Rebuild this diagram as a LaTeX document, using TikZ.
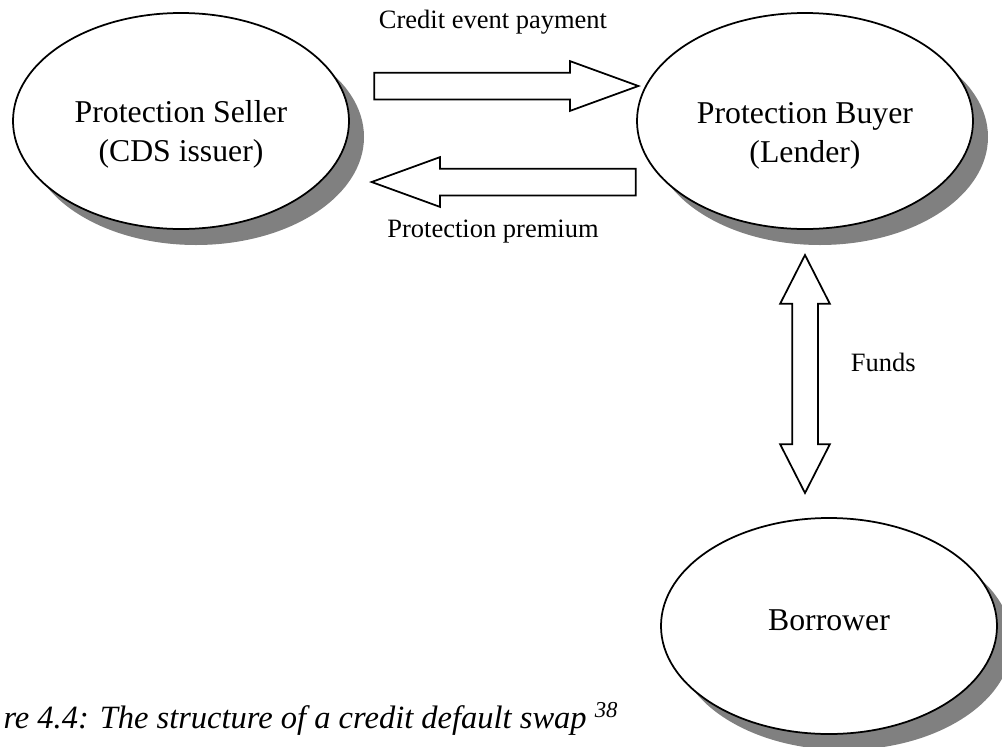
\documentclass[tikz,border=0pt]{standalone}
\usepackage{fontspec}
\setmainfont{Liberation Serif}
\usetikzlibrary{shapes.geometric, shapes.arrows, shadows}
\definecolor{shadowgray}{HTML}{808080}
\tikzset{
  party/.style={ellipse, draw, line width=0.7pt, fill=white, inner sep=0pt,
    minimum width=134.4pt, minimum height=86.4pt,
    drop shadow={shadow xshift=6pt, shadow yshift=-6.4pt, fill=shadowgray, opacity=1}},
  partytext/.style={align=center, font=\fontsize{12.7}{15.6}\selectfont},
  flowtext/.style={font=\fontsize{10.6}{12.7}\selectfont},
  flowarrow/.style={single arrow, draw, line width=0.7pt, fill=white, inner sep=5pt,
    minimum height=105.6pt,
    single arrow head extend=4.6pt, single arrow tip angle=40},
  fundsarrow/.style={double arrow, draw, line width=0.7pt, fill=white, inner sep=4.8pt,
    minimum height=95.2pt,
    double arrow head extend=4.8pt, double arrow tip angle=54}
}
\begin{document}
\begin{tikzpicture}[x=0.4pt, y=-0.4pt]
    \useasboundingbox (0,0) rectangle (1002,747);
    %parties
    \node[party] at (181,121) (seller){};
    \node[party] at (805,121) (buyer){};
    \node[party] at (829,626) (borrower){};
    \node[partytext] at (181,134) (sellertext){Protection Seller\\(CDS issuer)};
    \node[partytext] at (805,136) (buyertext){Protection Buyer\\(Lender)};
    \node[partytext] at (829,620) (borrowertext){Borrower};
    %flows
    \node[flowarrow] at (488,86) (payment){};
    \node[flowarrow, shape border rotate=180] at (522,182) (premium){};
    \node[fundsarrow, shape border rotate=90] at (805,374) (funds){};
    \node[flowtext] at (493,22) (paymenttext){Credit event payment};
    \node[flowtext] at (493,232) (premiumtext){Protection premium};
    \node[flowtext, anchor=west] at (842,362) (fundstext){Funds};
    %caption
    \node[anchor=base west, inner sep=0pt, font=\fontsize{13}{15.6}\selectfont\itshape]
      at (3,728) (caption){re 4.4: The structure of a credit default swap \textsuperscript{38}};
\end{tikzpicture}
\end{document}
